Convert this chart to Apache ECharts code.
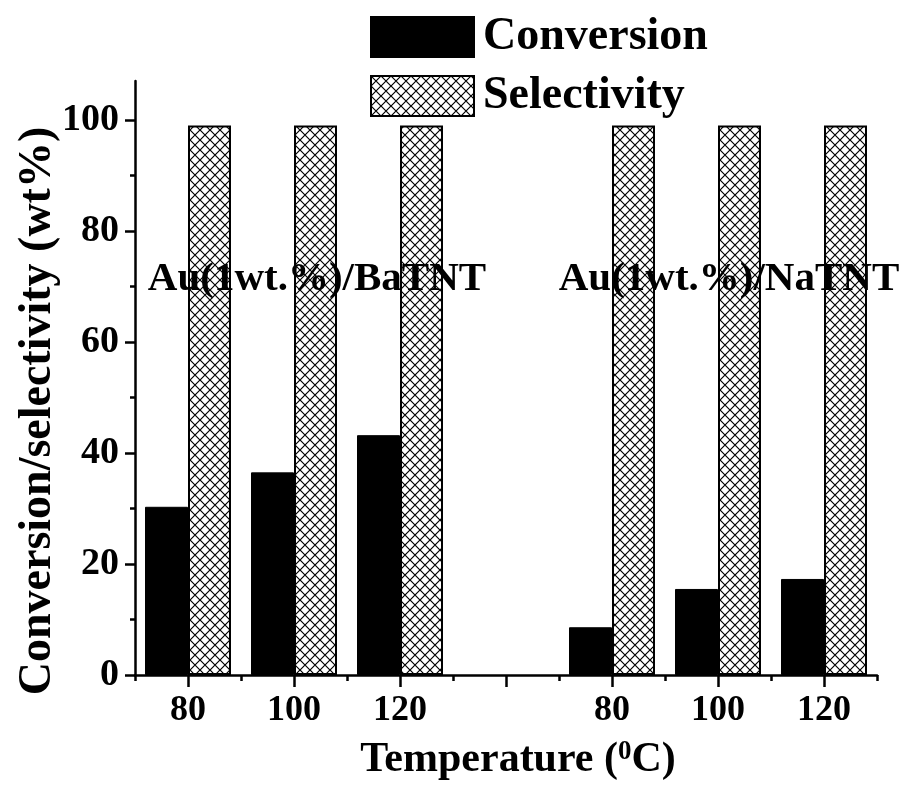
<!DOCTYPE html>
<html lang="en">
  <head>
    <meta charset="UTF-8" />
    <title>Conversion / Selectivity</title>
    <script src="https://cdn.jsdelivr.net/npm/echarts@6/dist/echarts.min.js"></script>
    <style>
      html, body { margin: 0; padding: 0; background: #fff; }
    </style>
  </head>
  <body>
    <div id="main" style="width: 905px; height: 797px"></div>
    <script type="text/javascript">
      // data
      const temps = ['80', '100', '120', '', '80', '100', '120'];
      const conversion = [30.3, 36.5, 43.2, null, 8.6, 15.5, 17.3];
      const selectivity = [99, 99, 99, null, 99, 99, 99];
      const yMajor = [0, 20, 40, 60, 80, 100];
      const yMinor = [10, 30, 50, 70, 90];
      const groupNames = ['Au(1wt.%)/BaTNT', 'Au(1wt.%)/NaTNT'];

      const font = 'Liberation Serif';

      // crosshatch fill
      const tile = document.createElement('canvas');
      tile.width = 10;
      tile.height = 10;
      const ctx = tile.getContext('2d');
      ctx.fillStyle = '#fff';
      ctx.fillRect(0, 0, 10, 10);
      ctx.strokeStyle = '#000';
      ctx.lineWidth = 1.2;
      ctx.beginPath();
      ctx.moveTo(-1, -1); ctx.lineTo(11, 11);
      ctx.moveTo(11, -1); ctx.lineTo(-1, 11);
      ctx.stroke();

      let myChart = echarts.init(document.getElementById('main'));

      let options = {
        animation: false,
        grid: { left: 135, right: 28, top: 81, bottom: 122, outerBoundsMode: 'none' },
        legend: {
          data: ['Conversion', 'Selectivity'],
          orient: 'vertical',
          left: 370,
          top: 14,
          padding: 0,
          icon: 'rect',
          itemWidth: 103,
          itemHeight: 40,
          itemGap: 13,
          textStyle: {
            fontFamily: font, fontWeight: 'bold', fontSize: 46,
            color: '#000', padding: [0, 0, 0, 4]
          }
        },
        xAxis: [
          {
            type: 'category',
            data: temps,
            name: 'Temperature ({s|0}C)',
            nameLocation: 'middle',
            nameGap: 64,
            nameTextStyle: {
              fontFamily: font, fontWeight: 'bold', fontSize: 42, color: '#000',
              padding: [0, 0, 0, 24],
              rich: {
                s: { fontFamily: font, fontWeight: 'bold', fontSize: 27, color: '#000', verticalAlign: 'top', padding: [0, 0, 16, 0] }
              }
            },
            axisLine: { show: true, lineStyle: { color: '#000', width: 2.5 } },
            axisTick: { show: true, alignWithLabel: true, length: 12, lineStyle: { color: '#000', width: 2.5 } },
            axisLabel: {
              margin: 18, fontFamily: font, fontWeight: 'bold', fontSize: 36, color: '#000'
            },
            splitLine: { show: false }
          },
          {
            type: 'category',
            data: temps,
            position: 'bottom',
            axisLine: { show: false },
            axisTick: { show: true, length: 6, lineStyle: { color: '#000', width: 2.5 } },
            axisLabel: { show: false },
            splitLine: { show: false }
          }
        ],
        yAxis: [
          {
            type: 'value',
            min: 0,
            max: 107,
            interval: 10,
            name: 'Conversion/selectivity (wt%)',
            nameLocation: 'middle',
            nameGap: 74,
            nameMoveOverlap: false,
            nameTextStyle: {
              fontFamily: font, fontWeight: 'bold', fontSize: 46, color: '#000',
              padding: [0, 66, 0, 0]
            },
            axisLine: { show: true, lineStyle: { color: '#000', width: 2.5 } },
            axisTick: { show: true, length: 10, customValues: yMajor, lineStyle: { color: '#000', width: 2.5 } },
            axisLabel: {
              customValues: yMajor,
              margin: 16, fontFamily: font, fontWeight: 'bold', fontSize: 38, color: '#000'
            },
            splitLine: { show: false }
          },
          {
            type: 'value',
            min: 0,
            max: 107,
            position: 'left',
            axisLine: { show: false },
            axisTick: { show: true, length: 5, customValues: yMinor, lineStyle: { color: '#000', width: 2.5 } },
            axisLabel: { show: false },
            splitLine: { show: false }
          }
        ],
        series: [
          {
            name: 'Conversion',
            type: 'bar',
            data: conversion,
            barWidth: 43,
            barGap: '0%',
            itemStyle: { color: '#000', borderColor: '#000', borderWidth: 1 }
          },
          {
            name: 'Selectivity',
            type: 'bar',
            data: selectivity,
            barWidth: 43,
            barGap: '0%',
            itemStyle: {
              color: { image: tile, repeat: 'repeat' },
              borderColor: '#000',
              borderWidth: 2
            }
          }
        ],
        graphic: [
          {
            type: 'text', x: 317, y: 279,
            style: {
              text: groupNames[0], font: 'bold 41px "Liberation Serif"',
              fill: '#000', align: 'center', verticalAlign: 'middle'
            },
            z: 100
          },
          {
            type: 'text', x: 729, y: 279,
            style: {
              text: groupNames[1], font: 'bold 41px "Liberation Serif"',
              fill: '#000', align: 'center', verticalAlign: 'middle'
            },
            z: 100
          }
        ]
      };

      myChart.setOption(options);
    </script>
  </body>
</html>
